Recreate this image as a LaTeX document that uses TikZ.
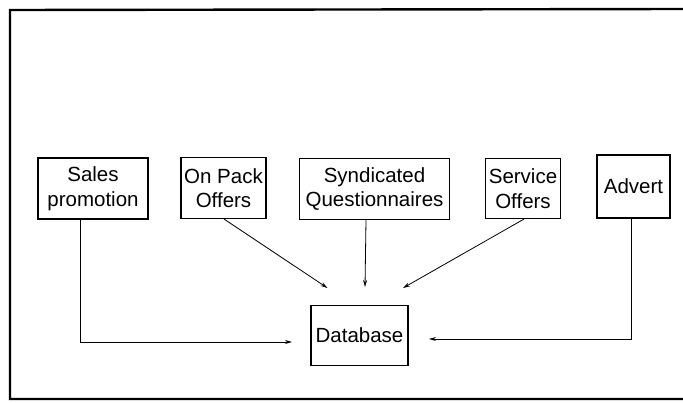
\documentclass[tikz,border=0pt]{standalone}
\usepackage{fontspec}
\setmainfont{Liberation Sans}
\usetikzlibrary{arrows.meta}
\begin{document}
\begin{tikzpicture}[x=1pt,y=-1pt,
  box/.style={draw, line width=1.1pt, inner sep=0pt, align=center,
    font=\fontsize{20.5}{24.5}\selectfont},
  feed/.style={line width=0.8pt, -{Stealth[length=7pt,width=4pt]}},
  frame/.style={line width=2.4pt}]
\useasboundingbox (0,0) rectangle (683,402);
% open frame around the chart
\draw[frame] (683,9) -- (10,10) -- (10,399) -- (683,399);
% sources
\node[box, minimum width=110pt, minimum height=61pt] (sales) at (93,188.5) {Sales\\promotion};
\node[box, minimum width=85pt, minimum height=61pt] (pack) at (223.5,188) {On Pack\\Offers};
\node[box, minimum width=150pt, minimum height=61pt] (synd) at (374.5,189) {Syndicated\\Questionnaires};
\node[box, minimum width=75pt, minimum height=60pt] (serv) at (523,188.5) {Service\\Offers};
\node[box, minimum width=73pt, minimum height=63pt] (adv) at (633.5,186.5) {Advert};
% target
\node[box, minimum width=97pt, minimum height=60pt] (db) at (359.5,335.5) {Database};
% arrow ends stop short of the database box
\coordinate (inL) at (292,342);
\coordinate (inPack) at (327.5,288);
\coordinate (inSynd) at (365,287);
\coordinate (inServ) at (403,288);
\coordinate (inR) at (429,339);
\draw[feed] (sales.south -| 80,0) -- (80,342) -- (inL);
\draw[feed] (pack.south) ++(0.5,0) -- (inPack);
\draw[feed] (synd.south -| 366,0) -- (inSynd);
\draw[feed] (serv.south) ++(1,0) -- (inServ);
\draw[feed] (adv.south -| 631.5,0) -- (631.5,339) -- (inR);
\end{tikzpicture}
\end{document}
